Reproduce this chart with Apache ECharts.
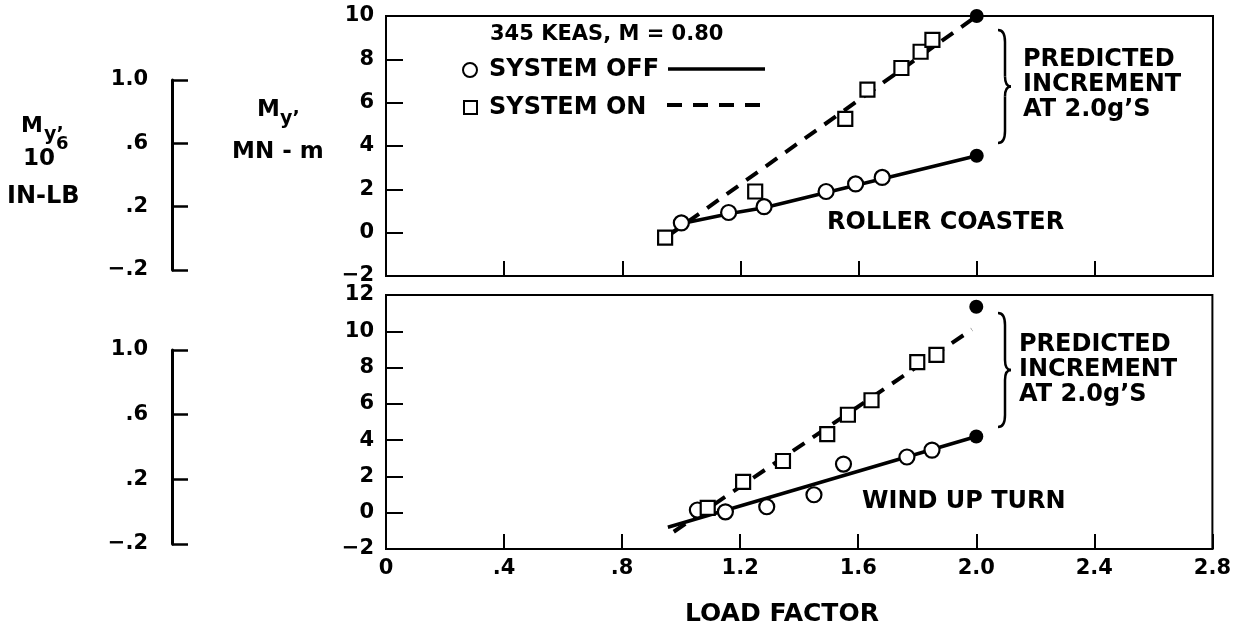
<!DOCTYPE html>
<html><head><meta charset="utf-8">
<script src="https://cdn.jsdelivr.net/npm/echarts@6/dist/echarts.min.js"></script>
<style>html,body{margin:0;padding:0;background:#fff}#c{width:1234px;height:626px}</style>
</head><body><div id="c"></div>
<script>
// ---- tick labels ----
const xTicks = ['0', '.4', '.8', '1.2', '1.6', '2.0', '2.4', '2.8'];
const yTicksTop = ['\u22122', '0', '2', '4', '6', '8', '10'];
const yTicksBottom = ['\u22122', '0', '2', '4', '6', '8', '10', '12'];
const auxTicks = ['\u2212.2', '.2', '.6', '1.0'];

// ---- ROLLER COASTER (top) : [load factor, My MN-m] ----
const rcOff = [[1.00, 0.45], [1.16, 0.93], [1.28, 1.2], [1.49, 1.9], [1.59, 2.25], [1.68, 2.55]];
const rcOn = [[0.945, -0.23], [1.25, 1.9], [1.555, 5.25], [1.63, 6.6], [1.745, 7.6], [1.81, 8.35], [1.85, 8.9]];
const rcOffFit = [[0.955, -0.15], [1.01, 0.45], [1.17, 0.9], [1.28, 1.15], [2.0, 3.55]];
const rcOnFit = [[0.955, -0.15], [2.0, 10.0]];
const rcPredicted = [[2.0, 3.55], [2.0, 10.0]];

// ---- WIND UP TURN (bottom) ----
const wtOff = [[1.055, 0.15], [1.15, 0.05], [1.29, 0.33], [1.45, 0.99], [1.55, 2.68], [1.765, 3.07], [1.85, 3.45]];
const wtOn = [[1.09, 0.27], [1.21, 1.7], [1.345, 2.85], [1.495, 4.33], [1.565, 5.4], [1.645, 6.2], [1.80, 8.3], [1.865, 8.7]];
const wtOffFit = [[0.955, -0.8], [2.0, 4.2]];
const wtOnFit = [[0.975, -1.05], [1.985, 10.1]];
const wtPredicted = [[2.0, 4.2], [2.0, 11.35]];

const FF = "'DejaVu Sans', 'Liberation Sans', sans-serif";
const BLACK = '#000';

function mainX(grid, showLabels) {
  return {
    gridIndex: grid, type: 'value', min: 0, max: 2.8, interval: 0.4,
    axisLine: { show: true, onZero: false, lineStyle: { color: BLACK, width: 2 } },
    axisTick: { show: true, inside: true, length: 15, lineStyle: { color: BLACK, width: 2 } },
    axisLabel: {
      show: showLabels, margin: 9, color: BLACK, fontFamily: FF, fontWeight: 'bold', fontSize: 21,
      formatter: v => xTicks[Math.round(v / 0.4)]
    },
    splitLine: { show: false }
  };
}
function mainY(grid, max, labels) {
  return {
    gridIndex: grid, type: 'value', min: -2, max: max, interval: 2,
    axisLine: { show: true, onZero: false, lineStyle: { color: BLACK, width: 2 } },
    axisTick: { show: true, inside: true, length: 17, lineStyle: { color: BLACK, width: 2 } },
    axisLabel: {
      margin: 12, color: BLACK, fontFamily: FF, fontWeight: 'bold', fontSize: 21,
      formatter: v => labels[Math.round((v + 2) / 2)]
    },
    splitLine: { show: false }
  };
}
function auxY(grid) {
  return {
    gridIndex: grid, type: 'value', min: 0, max: 12, interval: 4,
    axisLine: { show: true, onZero: false, lineStyle: { color: BLACK, width: 3 } },
    axisTick: { show: true, inside: true, length: 16, lineStyle: { color: BLACK, width: 2.5 } },
    axisLabel: {
      margin: 24, color: BLACK, fontFamily: FF, fontWeight: 'bold', fontSize: 21,
      formatter: v => auxTicks[Math.round(v / 4)]
    },
    splitLine: { show: false }
  };
}
function openCircles(data, xi) {
  return { type: 'scatter', xAxisIndex: xi, yAxisIndex: xi, data, symbol: 'circle', symbolSize: 15, z: 5,
    itemStyle: { color: '#fff', borderColor: BLACK, borderWidth: 2.2, opacity: 1 } };
}
function openSquares(data, xi) {
  return { type: 'scatter', xAxisIndex: xi, yAxisIndex: xi, data, symbol: 'rect', symbolSize: 14, z: 5,
    itemStyle: { color: '#fff', borderColor: BLACK, borderWidth: 2.2, opacity: 1 } };
}
function filled(data, xi) {
  return { type: 'scatter', xAxisIndex: xi, yAxisIndex: xi, data, symbol: 'circle', symbolSize: 14, z: 6,
    itemStyle: { color: BLACK, opacity: 1 } };
}
function fit(data, xi, dashed) {
  return { type: 'line', xAxisIndex: xi, yAxisIndex: xi, data, symbol: 'none', showSymbol: false, z: 3,
    lineStyle: { color: BLACK, width: dashed ? 4 : 3.5, type: dashed ? [14, 10] : 'solid' } };
}

function txt(x, y, text, size, extra) {
  return Object.assign({
    type: 'text', x, y, silent: true,
    style: { text, fill: BLACK, fontFamily: FF, fontWeight: 'bold', fontSize: size,
      textAlign: 'left', textVerticalAlign: 'middle', align: 'left', verticalAlign: 'middle', lineHeight: 25 }
  }, extra || {});
}
function brace(x, y, h) {
  const m = h / 2;
  const st = { fill: 'none', stroke: BLACK, lineWidth: 2.5 };
  const q = (x1, y1, cx, cy, x2, y2) => ({ type: 'bezierCurve', silent: true,
    shape: { x1: x + x1, y1: y + y1, cpx1: x + cx, cpy1: y + cy, x2: x + x2, y2: y + y2 }, style: st });
  const l = (x1, y1, x2, y2) => ({ type: 'line', silent: true,
    shape: { x1: x + x1, y1: y + y1, x2: x + x2, y2: y + y2 }, style: st });
  return [
    q(0, 0, 7, 0, 7, 12), l(7, 12, 7, m - 10), q(7, m - 10, 7, m, 13, m),
    q(13, m, 7, m, 7, m + 10), l(7, m + 10, 7, h - 12), q(7, h - 12, 7, h, 0, h)
  ];
}

const chart = echarts.init(document.getElementById('c'), null, { renderer: 'canvas' });
chart.setOption({
  animation: false,
  backgroundColor: '#fff',
  grid: [
    { left: 386, top: 16, width: 827, height: 260, show: true, borderColor: BLACK, borderWidth: 2, backgroundColor: 'transparent' },
    { left: 386, top: 295, width: 827, height: 254, show: true, borderColor: BLACK, borderWidth: 2, backgroundColor: 'transparent' },
    { left: 172, top: 80, width: 10, height: 190, show: false },
    { left: 172, top: 350, width: 10, height: 194, show: false }
  ],
  xAxis: [
    mainX(0, false), mainX(1, true),
    { gridIndex: 2, type: 'value', show: false, min: 0, max: 1 },
    { gridIndex: 3, type: 'value', show: false, min: 0, max: 1 }
  ],
  yAxis: [ mainY(0, 10, yTicksTop), mainY(1, 12, yTicksBottom), auxY(2), auxY(3) ],
  series: [
    fit(rcOffFit, 0, false), fit(rcOnFit, 0, true),
    openCircles(rcOff, 0), openSquares(rcOn, 0), filled(rcPredicted, 0),
    fit(wtOffFit, 1, false), fit(wtOnFit, 1, true),
    openCircles(wtOff, 1), openSquares(wtOn, 1), filled(wtPredicted, 1)
  ],
  graphic: [
    // left-hand axis titles
    txt(21, 126, 'M', 22), txt(44, 135, 'y\u2019', 19),
    txt(23, 159, '10', 23), txt(56, 144, '6', 18),
    txt(7, 197, 'IN-LB', 24),
    txt(257, 110, 'M', 23), txt(280, 119, 'y\u2019', 19),
    txt(232, 152, 'MN - m', 23),
    // legend
    txt(490, 35, '345 KEAS, M = 0.80', 21),
    { type: 'circle', silent: true, shape: { cx: 470, cy: 70, r: 7 }, style: { fill: '#fff', stroke: BLACK, lineWidth: 2 } },
    txt(489, 70, 'SYSTEM OFF', 24),
    { type: 'line', silent: true, shape: { x1: 668, y1: 69, x2: 765, y2: 69 }, style: { stroke: BLACK, lineWidth: 3.5 } },
    { type: 'rect', silent: true, shape: { x: 464, y: 101, width: 13, height: 13 }, style: { fill: '#fff', stroke: BLACK, lineWidth: 2 } },
    txt(489, 108, 'SYSTEM ON', 24),
    { type: 'line', silent: true, shape: { x1: 667, y1: 105, x2: 762, y2: 105 }, style: { stroke: BLACK, lineWidth: 4, lineDash: [15, 11] } },
    // annotations
    ...brace(998, 30, 113),
    txt(1023, 85, 'PREDICTED\nINCREMENT\nAT 2.0g\u2019S', 24),
    ...brace(998, 313, 114),
    txt(1019, 370, 'PREDICTED\nINCREMENT\nAT 2.0g\u2019S', 24),
    txt(827, 223, 'ROLLER COASTER', 24),
    txt(862, 502, 'WIND UP TURN', 24),
    txt(685, 614, 'LOAD FACTOR', 25)
  ]
});
</script></body></html>
